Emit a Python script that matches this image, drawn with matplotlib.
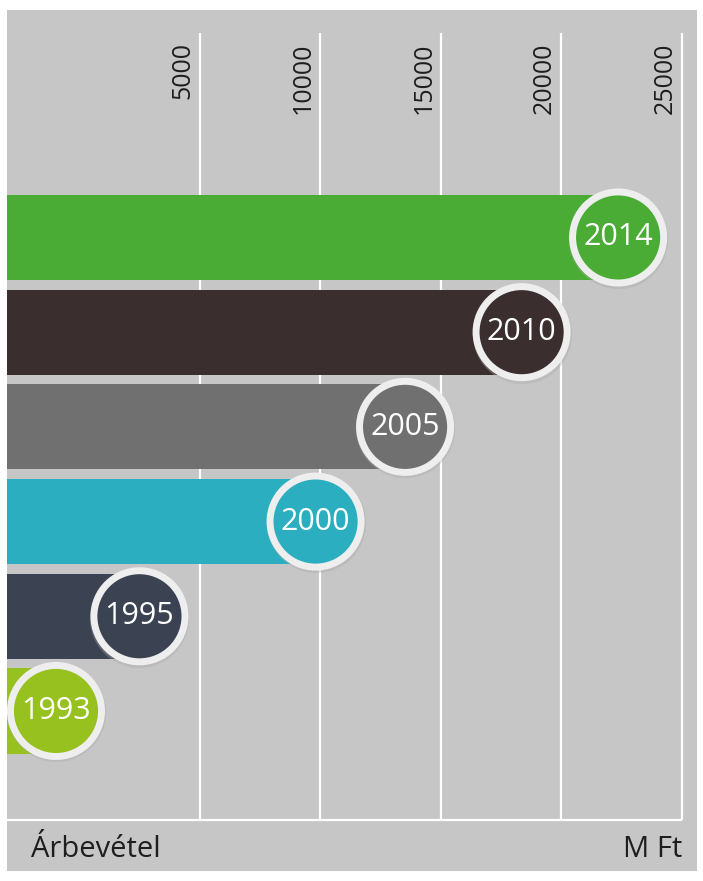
import matplotlib
matplotlib.use("Agg")
import matplotlib.pyplot as plt
from matplotlib import transforms

plt.rcParams['font.family'] = ['Open Sans', 'DejaVu Sans']

# data (M Ft)
years = ["2014", "2010", "2005", "2000", "1995", "1993"]
revenue = [22350, 18350, 13520, 9810, 2510, -950]
colors = ["#4aac35", "#3a2e2f", "#707070", "#2aaec0", "#3b4252", "#97c11f"]
ticks = [5000, 10000, 15000, 20000, 25000]
tick_labels = ["5000", "10000", "15000", "20000", "25000"]

bg = "#c6c6c6"
x0, x1 = -2980, 25620

fig = plt.figure(figsize=(7.03, 8.81), dpi=100, facecolor="white")
ax = fig.add_axes([7 / 703, 10 / 881, 690 / 703, 861 / 881])
ax.set_facecolor(bg)
ax.set_xlim(x0, x1)
ax.set_ylim(6.69, -2.402)
for s in ax.spines.values():
    s.set_visible(False)
ax.set_xticks([])
ax.set_yticks([])

# grid
ax.vlines(ticks, -2.159, 6.151, color="white", lw=1.6, zorder=1)
ax.hlines(6.151, x0, ticks[-1], color="white", lw=1.6, zorder=1)

for t, lab in zip(ticks, tick_labels):
    ax.annotate(lab, (t, -2.06), xytext=(-3, 0), textcoords="offset points",
                rotation=90, ha="right", va="top", fontsize=18,
                color="#1e1e1e")

ypos = list(range(len(years)))
ax.barh(ypos, [v - x0 for v in revenue], left=x0, height=0.9,
        color=colors, zorder=2)

# shadow + ring + fill
shadow = transforms.offset_copy(ax.transData, fig=fig, x=0, y=-1.5, units="dots")
ax.scatter(revenue, ypos, s=5100, color="#a9a9a9", alpha=0.35, lw=0,
           transform=shadow, zorder=3)
ax.scatter(revenue, ypos, s=4300, c=colors, edgecolors="#eeeeee",
           linewidths=5.0, zorder=4)
for v, y, yr in zip(revenue, ypos, years):
    ax.text(v, y, yr, ha="center", va="center", color="white",
            fontsize=22, zorder=5)

ax.text(x0 + 1000, 6.542, "Árbevétel", ha="left", va="baseline",
        fontsize=21, color="#1e1e1e")
ax.text(ticks[-1], 6.542, "M Ft", ha="right", va="baseline",
        fontsize=21, color="#1e1e1e")

fig.savefig("out.png", dpi=100, facecolor="white")
